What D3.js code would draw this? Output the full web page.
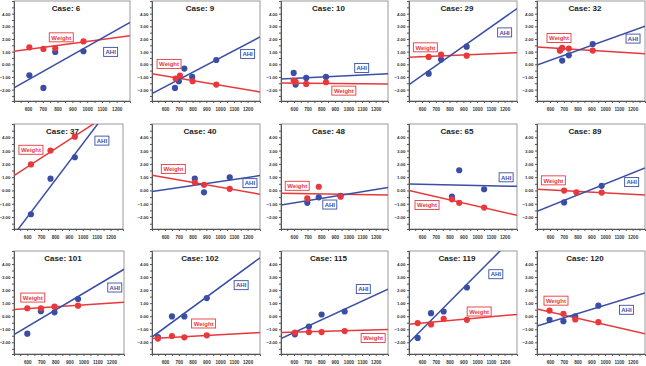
<!DOCTYPE html>
<html><head><meta charset="utf-8">
<script src="https://cdn.jsdelivr.net/npm/d3@7"></script>
<style>
body{margin:0;background:#fff;}
svg{display:block;font-family:"Liberation Sans",Arial,sans-serif;}
</style></head><body>
<script>
const cases = [6, 9, 10, 29, 32, 37, 40, 48, 65, 89, 101, 102, 115, 119, 120];

// measured points per case: [x, z-score]
const weightPts = [
  [[609,1.34],[704,1.21],[784,1.26],[975,1.81]],
  [[677,-1.13],[708,-0.89],[800,-1.34],[972,-1.6]],
  [[598,-1.29],[612,-1.39],[690,-1.55],[835,-1.42]],
  [[648,0.58],[738,0.76],[924,0.68]],
  [[672,1.08],[688,1.29],[736,1.24],[910,1.08]],
  [[627,1.96],[768,3.0],[943,4.05]],
  [[816,0.6],[883,0.43],[1070,0.12]],
  [[698,-0.6],[782,0.28],[942,-0.47]],
  [[817,-0.67],[870,-0.93],[1051,-1.29]],
  [[702,-0.01],[791,-0.14],[975,-0.16]],
  [[600,0.61],[697,0.61],[794,0.73],[962,0.81]],
  [[548,-1.72],[650,-1.52],[740,-1.62],[903,-1.47]],
  [[607,-1.26],[710,-1.22],[803,-1.22],[972,-1.14]],
  [[568,-0.53],[665,-0.63],[757,-0.2],[926,-0.28]],
  [[596,0.43],[697,0.18],[783,-0.25],[951,-0.46]]
];
const ahiPts = [
  [[609,-0.87],[704,-1.87],[784,0.98],[975,1.03]],
  [[672,-1.87],[700,-1.34],[740,-0.34],[797,-1.0],[972,0.34]],
  [[598,-0.68],[612,-1.6],[690,-1.08],[835,-1.0]],
  [[648,-0.74],[738,0.37],[924,1.39]],
  [[672,1.1],[688,0.29],[736,0.71],[910,1.6]],
  [[627,-1.79],[768,0.89],[943,2.5]],
  [[816,0.89],[883,-0.14],[1070,0.99]],
  [[698,-0.93],[782,-0.52],[942,-0.4]],
  [[817,-0.47],[870,1.52],[1051,0.09]],
  [[702,-0.9],[975,0.35]],
  [[600,-1.34],[697,0.38],[794,0.3],[962,1.32]],
  [[548,-1.6],[650,-0.02],[740,-0.02],[903,1.39]],
  [[607,-1.39],[710,-0.8],[803,0.13],[972,0.36]],
  [[568,-1.67],[665,0.23],[757,0.36],[926,2.2]],
  [[596,-0.28],[697,-0.38],[783,-0.02],[951,0.81]]
];

// fitted line values at the two ends of the x domain
const weightFit = [[1.03,2.26],[-0.74,-2.18],[-1.47,-1.55],[0.55,0.92],[1.37,0.84],
  [1.12,6.45],[1.14,-0.29],[-0.21,-0.34],[-0.01,-1.87],[0.09,-0.34],
  [0.51,1.06],[-1.72,-1.26],[-1.26,-1.03],[-0.61,0.13],[0.56,-1.34]];
const ahiFit = [[-1.87,3.31],[-2.31,2.16],[-1.16,-0.74],[-1.6,4.4],[-0.05,3.0],
  [-3.33,7.52],[-0.08,1.12],[-1.1,0.22],[0.48,0.31],[-1.56,1.7],
  [-1.41,3.6],[-1.6,4.48],[-1.72,2.08],[-2.02,6.31],[-0.76,1.78]];

// where the series tags sit, in data units
const weightTag = [[825,2.13],[629,0.03],[966,-2.08],[624,1.34],[665,2.08],
  [627,3.06],[660,1.62],[624,0.35],[636,-1.1],[624,0.76],
  [639,1.43],[880,-0.56],[1181,-1.67],[1015,0.36],[643,1.19]];
const ahiTag = [[1159,0.98],[1200,0.82],[1097,-0.29],[1200,2.52],[1203,2.03],
  [1138,3.75],[1217,0.55],[863,-1.06],[1211,0.99],[1193,0.63],
  [1224,2.2],[1153,2.38],[1109,2.08],[1136,3.22],[1155,0.49]];

const xTicks = [600, 700, 800, 900, 1000, 1100, 1200];
const yTicks = [-2, -1, 0, 1, 2, 3, 4];
const xDomain = [505, 1290], yDomain = [-2.9, 5.0];

const red = '#e8383c', blue = '#3a4ea6';

const colL = [14, 152, 281, 409, 537];
const colR = [[130, 260, 388, 517, 645], [123, 260, 388, 517, 645], [124, 260, 388, 517, 645]];
const rowT = [1, 124, 251], rowB = [101, 229, 354];

const svg = d3.select('body').append('svg')
    .attr('width', 646)
    .attr('height', 366);

const fmt = d3.format('.2f');

cases.forEach((c, i) => {
    const row = Math.floor(i / 5), col = i % 5;
    const left = colL[col], w = colR[row][col] - left;
    const top = rowT[row], h = rowB[row] - top;

    const x = d3.scaleLinear().domain(xDomain).range([0, w]);
    const y = d3.scaleLinear().domain(yDomain).range([h, 0]);

    const g = svg.append('g').attr('transform', `translate(${left},${top})`);

    g.append('clipPath').attr('id', 'clip' + i)
        .append('rect').attr('width', w).attr('height', h);

    g.append('rect')
        .attr('width', w).attr('height', h)
        .attr('fill', '#fff')
        .attr('stroke', '#999').attr('stroke-width', 1);

    // axes
    const xa = g.append('g').attr('transform', `translate(0,${h})`)
        .call(d3.axisBottom(x).tickValues(d3.range(550, 1290, 50)).tickSize(2).tickFormat(''));
    xa.select('.domain').attr('stroke', '#555');
    xa.selectAll('line').attr('stroke', '#555');
    g.append('g').attr('transform', `translate(0,${h})`)
        .call(d3.axisBottom(x).tickValues(xTicks).tickSize(0).tickPadding(7).tickFormat(d3.format('d')))
        .call(a => a.select('.domain').remove())
        .selectAll('text').attr('font-size', 4.6).attr('font-weight', 'bold').attr('fill', '#333');

    const ya = g.append('g')
        .call(d3.axisLeft(y).tickValues(d3.range(-2.5, 5, 0.5)).tickSize(2).tickFormat(''));
    ya.select('.domain').attr('stroke', '#555');
    ya.selectAll('line').attr('stroke', '#555');
    g.append('g')
        .call(d3.axisLeft(y).tickValues(yTicks).tickSize(0).tickPadding(3.5).tickFormat(fmt))
        .call(a => a.select('.domain').remove())
        .selectAll('text').attr('font-size', 4.4).attr('font-weight', 'bold').attr('fill', '#333');

    // title
    g.append('text')
        .attr('x', (w - 12) / 2).attr('y', 10)
        .attr('text-anchor', 'middle')
        .attr('font-size', 8).attr('font-weight', 'bold').attr('fill', '#222')
        .text('Case: ' + c);

    const line = d3.line().x(d => x(d[0])).y(d => y(d[1]));
    const lines = g.append('g').attr('clip-path', `url(#clip${i})`);
    lines.append('path')
        .attr('d', line([[xDomain[0], weightFit[i][0]], [xDomain[1], weightFit[i][1]]]))
        .attr('stroke', red).attr('stroke-width', 1.5).attr('fill', 'none');
    lines.append('path')
        .attr('d', line([[xDomain[0], ahiFit[i][0]], [xDomain[1], ahiFit[i][1]]]))
        .attr('stroke', blue).attr('stroke-width', 1.5).attr('fill', 'none');

    g.selectAll('.ahi').data(ahiPts[i]).join('circle')
        .attr('class', 'ahi')
        .attr('cx', d => x(d[0])).attr('cy', d => y(d[1]))
        .attr('r', 3.1).attr('fill', blue);
    g.selectAll('.wt').data(weightPts[i]).join('circle')
        .attr('class', 'wt')
        .attr('cx', d => x(d[0])).attr('cy', d => y(d[1]))
        .attr('r', 3.1).attr('fill', red);

    // tags
    const tag = (pos, label, color, bw) => {
        const t = g.append('g').attr('transform', `translate(${x(pos[0])},${y(pos[1])})`);
        t.append('rect')
            .attr('x', -bw / 2).attr('y', -4.5).attr('width', bw).attr('height', 9)
            .attr('fill', '#fff').attr('stroke', color).attr('stroke-width', 0.9);
        t.append('text')
            .attr('y', 2.2).attr('text-anchor', 'middle')
            .attr('font-size', 6).attr('font-weight', 'bold').attr('fill', color)
            .text(label);
    };
    tag(weightTag[i], 'Weight', red, 24);
    tag(ahiTag[i], 'AHI', blue, 14);
});
</script>
</body></html>
